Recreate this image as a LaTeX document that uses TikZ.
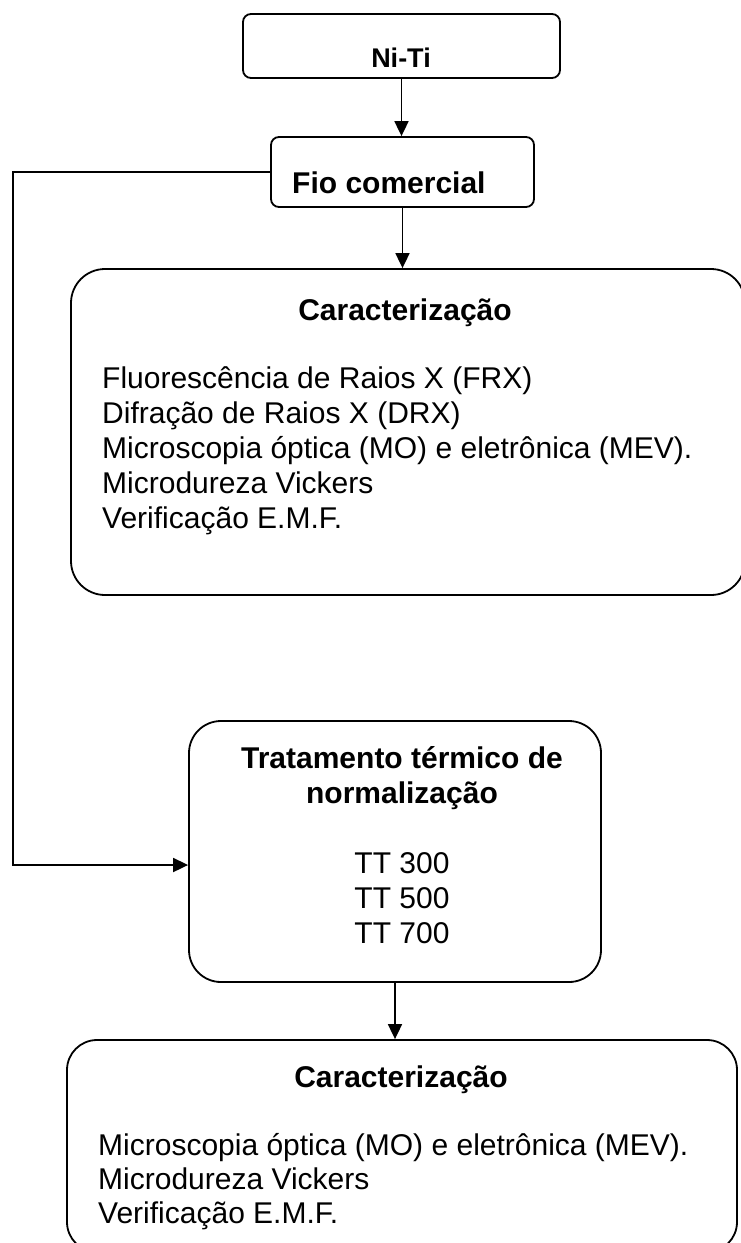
\documentclass[tikz,border=0pt]{standalone}
\usepackage{fontspec}
\setmainfont{Liberation Sans}
\usetikzlibrary{arrows.meta,positioning,calc}

\tikzset{
  box/.style={draw, line width=1.8pt, rounded corners=8pt, inner sep=0pt},
  bigbox/.style={draw, line width=1.8pt, rounded corners=34pt, inner sep=0pt},
  head/.style={font=\fontsize{30}{34.5}\selectfont\bfseries, inner sep=0pt, anchor=base},
  item/.style={font=\fontsize{30}{34.5}\selectfont, inner sep=0pt, anchor=base west},
  link/.style={line width=1.8pt, -{Triangle[length=15pt,width=14pt]}}
}

\begin{document}
\begin{tikzpicture}[x=1pt,y=-1pt]
\useasboundingbox (0,0) rectangle (740,1243);

% Boxes
\node[box, minimum width=317pt, minimum height=64pt] (niti) at (401.5,46) {};
\node[box, minimum width=263pt, minimum height=70pt] (fio) at (402.5,172) {};
\node[bigbox, minimum width=674pt, minimum height=326pt] (car1) at (408,432) {};
\node[bigbox, rounded corners=32pt, minimum width=412pt, minimum height=261pt] (trat) at (395,851.5) {};
\node[bigbox, rounded corners=30pt, minimum width=670pt, minimum height=212pt] (car2) at (402,1146) {};

% Texts
\node[head, font=\fontsize{27}{31}\selectfont\bfseries] (nitiText) at (401,67) {Ni-Ti};
\node[head, anchor=base west] (fioText) at (292,193) {Fio comercial};
\node[head] (car1Title) at (405,320) {Caracterização};
\foreach \t [count=\i from 0] in {Fluorescência de Raios X (FRX), Difração de Raios X (DRX),
    Microscopia óptica (MO) e eletrônica (MEV)., Microdureza Vickers, Verificação E.M.F.}
  \node[item] (car1Item\i) at (102,388+35*\i) {\t};

\node[head] (tratTitleA) at (402,768) {Tratamento térmico de};
\node[head] (tratTitleB) at (402,803) {normalização};
\foreach \t [count=\i from 0] in {TT 300, TT 500, TT 700}
  \node[head, font=\fontsize{30}{34.5}\selectfont] (tt\i) at (402,873+35*\i) {\t};

\node[head] (car2Title) at (401,1087) {Caracterização};
\foreach \t [count=\i from 0] in {Microscopia óptica (MO) e eletrônica (MEV)., Microdureza Vickers, Verificação E.M.F.}
  \node[item] (car2Item\i) at (98,1155+34*\i) {\t};

% Connectors
\coordinate (loopTop) at (13,172);
\coordinate (loopBot) at (13,865);
\draw[link] (niti.south) -- (niti.south |- fio.north);
\draw[link] (fio.south) -- (fio.south |- car1.north);
\draw[link] (trat.south) -- (trat.south |- car2.north);
\draw[link] (fio.west) -- (loopTop) -- (loopBot) -- (loopBot -| trat.west);

\end{tikzpicture}
\end{document}
